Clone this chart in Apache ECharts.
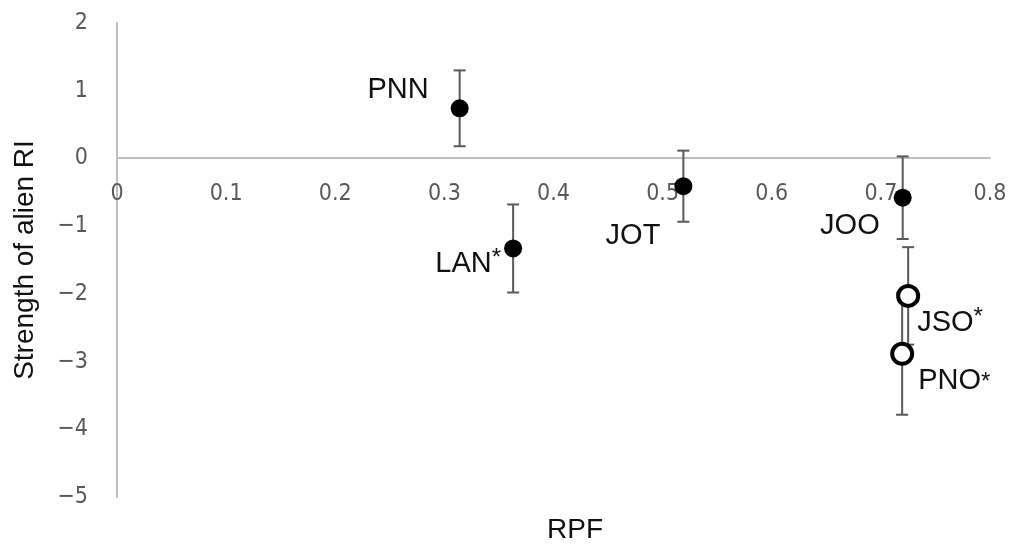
<!DOCTYPE html>
<html lang="en">
<head>
    <meta charset="UTF-8">
    <title>RPF vs strength of alien RI</title>
    <script src="https://cdn.jsdelivr.net/npm/echarts@6/dist/echarts.min.js"></script>
    <style>
        html, body { margin: 0; padding: 0; background: #fff; }
        #container { width: 1011px; height: 545px; }
    </style>
</head>
<body>
<div id="container"></div>
<script>
    // values
    var names       = ['PNN', 'LAN', 'JOT', 'JOO', 'JSO', 'PNO'];
    var rpf         = [0.314, 0.363, 0.519, 0.720, 0.725, 0.7195];
    var strength    = [0.74, -1.33, -0.41, -0.58, -2.03, -2.885];
    var errors      = [0.56, 0.65, 0.525, 0.61, 0.72, 0.90];
    var significant = [false, true, false, false, true, true];
    var hollow      = [false, false, false, false, true, true];
    var xTicks      = [0, 0.1, 0.2, 0.3, 0.4, 0.5, 0.6, 0.7, 0.8];
    var yTicks      = [-5, -4, -3, -2, -1, 0, 1, 2];

    // label placement per point (pixels from the marker centre)
    var labelPlace = {
        PNN: { align: 'right', offset: [-31, -18], star: 'sup' },
        LAN: { align: 'right', offset: [-12, 16], star: 'sup' },
        JOT: { align: 'right', offset: [-23, 50], star: 'sup' },
        JOO: { align: 'right', offset: [-23, 28], star: 'sup' },
        JSO: { align: 'left',  offset: [9, 27],   star: 'sup' },
        PNO: { align: 'left',  offset: [16, 27],  star: 'mid' }
    };

    var textFont = "'Liberation Sans', Arial, sans-serif";
    var tickFont = "'DejaVu Sans Condensed', 'DejaVu Sans', sans-serif";

    function pointItem(i) {
        var p = labelPlace[names[i]];
        var txt = '{n|' + names[i] + '}';
        if (significant[i]) txt += (p.star === 'mid' ? '{m|*}' : '{s|*}');
        return {
            name: names[i],
            value: [rpf[i], strength[i]],
            label: {
                show: true,
                position: 'inside',
                align: p.align,
                verticalAlign: 'middle',
                offset: p.offset,
                formatter: txt
            }
        };
    }

    var filled = [], open = [], bars = [];
    for (var i = 0; i < names.length; i++) {
        (hollow[i] ? open : filled).push(pointItem(i));
        bars.push([rpf[i], strength[i], errors[i]]);
    }

    var richText = {
        n: { fontSize: 29, fontFamily: textFont, color: '#111', lineHeight: 36 },
        s: { fontSize: 24, fontFamily: textFont, color: '#111', lineHeight: 36, verticalAlign: 'top' },
        m: { fontSize: 24, fontFamily: textFont, color: '#111', lineHeight: 24, verticalAlign: 'bottom', padding: [0, 0, 4, 0] }
    };

    var myCharts = echarts.init(document.getElementById('container'));

    myCharts.setOption({
        animation: false,
        backgroundColor: '#fff',
        grid: { left: 117, right: 21, top: 23, bottom: 48, containLabel: false },
        xAxis: {
            type: 'value',
            position: 'bottom',
            // the axis crosses at y = 0, which sits 339px above the grid bottom
            offset: -339,
            min: xTicks[0],
            max: xTicks[xTicks.length - 1],
            interval: 0.1,
            axisLine: { onZero: false, lineStyle: { color: '#bfbfbf', width: 2 } },
            axisTick: { show: false },
            splitLine: { show: false },
            axisLabel: {
                margin: 25,
                fontSize: 23,
                fontFamily: tickFont,
                color: '#595959',
                showMinLabel: true,
                showMaxLabel: true
            }
        },
        yAxis: {
            type: 'value',
            min: yTicks[0],
            max: yTicks[yTicks.length - 1],
            interval: 1,
            name: 'Strength of alien RI',
            nameLocation: 'middle',
            nameGap: 78,
            nameTextStyle: { fontSize: 28, fontFamily: textFont, color: '#111' },
            axisLine: { show: true, onZero: false, lineStyle: { color: '#bfbfbf', width: 2 } },
            axisTick: { show: false },
            splitLine: { show: false },
            axisLabel: {
                margin: 29,
                fontSize: 23,
                fontFamily: tickFont,
                color: '#595959',
                formatter: function (v) { return String(v).replace('-', '\u2212'); }
            }
        },
        graphic: [{
            type: 'text',
            x: 575,
            y: 530,
            style: {
                text: 'RPF',
                fontSize: 28,
                fontFamily: textFont,
                fill: '#111',
                align: 'center',
                verticalAlign: 'middle'
            }
        }],
        series: [
            {
                type: 'custom',
                z: 1,
                data: bars,
                renderItem: function (params, api) {
                    var x = api.value(0), y = api.value(1), e = api.value(2);
                    var top = api.coord([x, y + e]);
                    var bot = api.coord([x, y - e]);
                    var cap = 6;
                    var st = { stroke: '#595959', lineWidth: 2 };
                    return {
                        type: 'group',
                        children: [
                            { type: 'line', shape: { x1: top[0], y1: top[1], x2: bot[0], y2: bot[1] }, style: st },
                            { type: 'line', shape: { x1: top[0] - cap, y1: top[1], x2: top[0] + cap, y2: top[1] }, style: st },
                            { type: 'line', shape: { x1: bot[0] - cap, y1: bot[1], x2: bot[0] + cap, y2: bot[1] }, style: st }
                        ]
                    };
                }
            },
            {
                type: 'scatter',
                z: 3,
                symbol: 'circle',
                symbolSize: 18,
                itemStyle: { color: '#000', opacity: 1 },
                label: { rich: richText },
                data: filled
            },
            {
                type: 'scatter',
                z: 4,
                symbol: 'circle',
                symbolSize: 20,
                itemStyle: { color: '#fff', borderColor: '#000', borderWidth: 4, opacity: 1 },
                label: { rich: richText },
                data: open
            }
        ]
    });
</script>
</body>
</html>
